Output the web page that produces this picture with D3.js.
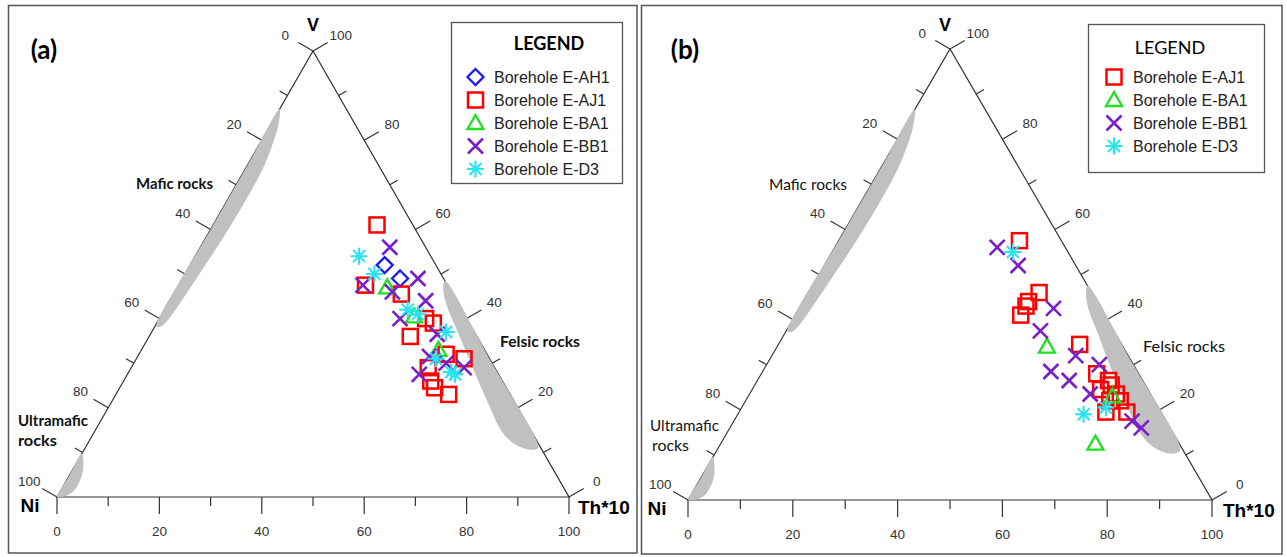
<!DOCTYPE html>
<html>
<head>
<meta charset="utf-8">
<script src="https://cdn.jsdelivr.net/npm/d3@7"></script>
<style>
  body { margin: 0; background: #fff; }
  svg { display: block; }
</style>
</head>
<body>
<svg id="chart" width="1287" height="557"></svg>
<script>
// Ternary compositions, each sample as [Ni, V, Th*10] in percent.
const boreholeNames = ["Borehole E-AH1", "Borehole E-AJ1", "Borehole E-BA1", "Borehole E-BB1", "Borehole E-D3"];

// Panel (a)
const aAH1 = [[10, 52, 38], [8.5, 49, 42.5]];
const aAJ1 = [[7, 61, 32], [16, 47.5, 36.5], [10, 45.5, 44.5], [8, 40, 52], [7, 39, 54], [13, 36, 51],
              [8, 32, 60], [5, 31, 64], [13, 29, 58], [14, 26, 60], [14, 24.5, 61.5], [12, 23, 65]];
const aBA1 = [[12, 47, 41], [10, 40.5, 49.5], [9, 33, 58]];
const aBB1 = [[7, 56, 37], [16.5, 47.5, 36], [5, 49, 46], [11.5, 46, 42.5], [6, 44, 50], [13, 40, 47],
              [7.5, 36.5, 56], [6, 29, 65], [15.5, 27.5, 57], [11.5, 31.5, 57], [9, 30, 61]];
const aD3  = [[14, 54, 32], [13, 50, 37], [10.5, 42, 47.5], [9, 41, 50], [5.5, 37, 57.5],
              [10.5, 31, 58.5], [9, 28, 63], [8.5, 27.5, 64]];

// Panel (b)
const bAJ1 = [[8, 57.5, 34.5], [10, 46, 44], [14, 43, 43], [16, 41, 43], [13, 44, 43], [8, 34.5, 57.5],
              [8, 28, 64], [6.5, 26.5, 67], [6.5, 25.5, 68], [9, 24.5, 66.5], [6.5, 23.5, 70],
              [8.5, 22, 69.5], [6.5, 22, 71.5], [10.5, 19.5, 70], [6.5, 19.5, 74]];
const bBA1 = [[14.5, 34, 51.5], [7.5, 23, 69.5], [16, 12.5, 71.5]];
const bBB1 = [[13, 56, 31], [11, 52, 37], [9, 42.5, 48.5], [14, 37.5, 48.5], [10, 32, 58], [6.5, 30, 63.5],
              [16.5, 28.5, 55], [14, 26.5, 59.5], [11.5, 23.5, 65], [6.5, 17.5, 76], [5.5, 16, 78.5]];
const bD3  = [[10.5, 55, 34.5], [15, 19, 66], [10, 20.5, 69.5]];

// Rock-type fields, outlines as [Ni, V, Th*10]
const felsicA = [[0, 48.5, 51.5], [1.3, 46.5, 52.2], [2.4, 43, 54.6], [3.1, 38, 58.9], [3.9, 32, 64.1],
                 [4.7, 26, 69.3], [5.4, 20, 74.6], [5.8, 16, 78.2], [5.4, 13, 81.6], [3.9, 11.2, 84.9],
                 [2, 10.6, 87.4], [0.5, 11, 88.5], [0, 12.5, 87.5], [0, 30, 70]];
const maficA = [[13, 87, 0], [15, 83.5, 1.5], [18.5, 78.9, 2.6], [23, 73.6, 3.4], [30, 66.4, 3.6],
                [38, 58.6, 3.4], [46, 51.1, 2.9], [53, 44.6, 2.4], [58, 40.1, 1.9], [60.5, 38.3, 1.2],
                [61.5, 38.1, 0.4], [61, 39, 0], [40, 60, 0], [25, 75, 0]];
const ultramaficA = [[90.3, 9.7, 0], [90.8, 8.1, 1.1], [92, 5.9, 2.1], [94, 3.3, 2.7], [96, 1.4, 2.6],
                     [98.2, 0.2, 1.6], [99.6, 0, 0.4], [100, 0, 0], [95, 5, 0]];
const felsicB = [[0, 47.5, 52.5], [1.3, 45.5, 53.2], [2.5, 42, 55.5], [3.3, 37, 59.7], [4.2, 32, 63.8],
                 [5.1, 26, 68.9], [5.9, 20, 74.1], [6.3, 16, 77.7], [5.9, 12.8, 81.3], [4.3, 10.8, 84.9],
                 [2.2, 10.3, 87.5], [0.6, 11, 88.4], [0, 12.5, 87.5], [0, 30, 70]];
const maficB = [[13.5, 86.5, 0], [15.5, 83, 1.5], [19, 78.4, 2.6], [24, 72.6, 3.4], [31, 65.4, 3.6],
                [39, 57.6, 3.4], [47, 50.1, 2.9], [54, 43.6, 2.4], [59, 39.1, 1.9], [61.5, 37.3, 1.2],
                [62.3, 37.3, 0.4], [62, 38, 0], [40, 60, 0], [25, 75, 0]];
const ultramaficB = [[90.5, 9.5, 0], [91, 8, 1], [92.2, 5.6, 2.2], [94, 3.2, 2.8], [96.2, 1.1, 2.7],
                     [98.3, 0.1, 1.6], [99.6, 0, 0.4], [100, 0, 0], [95, 5, 0]];

const tickValues = d3.range(0, 101, 10);
const tickLabels = [0, 20, 40, 60, 80, 100];

const colors = { "Borehole E-AH1": "#1c1cf0", "Borehole E-AJ1": "#ff0000", "Borehole E-BA1": "#22dd22",
                 "Borehole E-BB1": "#7a1fc8", "Borehole E-D3": "#26e4f2" };
const shapes = { "Borehole E-AH1": "diamond", "Borehole E-AJ1": "square", "Borehole E-BA1": "triangle",
                 "Borehole E-BB1": "cross", "Borehole E-D3": "star" };

const svg = d3.select("#chart");
const SANS = "'Liberation Sans', Arial, sans-serif";
const CAL = "Lato, 'Open Sans', sans-serif";

function drawMarker(g, type, color, x, y) {
  const m = g.append("g").attr("transform", `translate(${x},${y})`)
    .attr("fill", "none").attr("stroke", color).attr("stroke-width", 2.3);
  if (type === "square") {
    m.append("rect").attr("x", -7.5).attr("y", -7.5).attr("width", 15).attr("height", 15).attr("stroke-width", 2.5);
  } else if (type === "diamond") {
    m.append("path").attr("d", "M0,-8L8,0L0,8L-8,0Z");
  } else if (type === "triangle") {
    m.append("path").attr("d", "M0,-8L8,6L-8,6Z");
  } else if (type === "cross") {
    m.append("path").attr("d", "M-7.5,-7.5L7.5,7.5M-7.5,7.5L7.5,-7.5").attr("stroke-width", 2.6);
  } else if (type === "star") {
    m.append("path").attr("d", "M-8.5,0L8.5,0M0,-8.5L0,8.5M-6,-6L6,6M-6,6L6,-6").attr("stroke-width", 2);
  }
}

function drawPanel(cfg) {
  const g = svg.append("g");

  // panel frame
  g.append("rect").attr("x", cfg.frame[0]).attr("y", cfg.frame[1])
    .attr("width", cfg.frame[2] - cfg.frame[0]).attr("height", cfg.frame[3] - cfg.frame[1])
    .attr("fill", "none").attr("stroke", "#555").attr("stroke-width", 1.5);

  const xs = d3.scaleLinear().domain([0, 100]).range([cfg.x0, cfg.x1]);
  const ys = d3.scaleLinear().domain([0, 100]).range([cfg.yBase, cfg.yApex]);
  const P = d => [xs(d[2] + d[1] / 2), ys(d[1])];

  // triangle
  g.append("path")
    .attr("d", d3.line()([P([100, 0, 0]), P([0, 100, 0]), P([0, 0, 100])]) + "Z")
    .attr("fill", "none").attr("stroke", "#333").attr("stroke-width", 1.2);

  // ticks and tick labels on the three sides
  const sides = [
    { pt: t => P([100 - t, 0, t]), n: [0, 1] },            // Th*10 along the base
    { pt: t => P([t, 100 - t, 0]), n: [-0.866, -0.5] },     // Ni on the left side
    { pt: t => P([0, t, 100 - t]), n: [0.866, -0.5] }       // V on the right side
  ];
  sides.forEach(s => {
    tickValues.forEach(t => {
      const p = s.pt(t);
      const len = t % 20 === 0 ? 17 : 9;
      g.append("line").attr("x1", p[0]).attr("y1", p[1])
        .attr("x2", p[0] + len * s.n[0]).attr("y2", p[1] + len * s.n[1])
        .attr("stroke", "#333").attr("stroke-width", 1.2);
    });
    tickLabels.forEach(t => {
      const p = s.pt(t);
      const off = s.n[1] === 1 ? 34 : 32;
      g.append("text").attr("x", p[0] + off * s.n[0]).attr("y", p[1] + off * s.n[1])
        .attr("text-anchor", "middle").attr("dominant-baseline", "central")
        .attr("font-family", SANS).attr("font-size", 13.5).attr("fill", "#333")
        .text(t);
    });
  });

  // rock-type fields
  const area = d3.line().curve(d3.curveCatmullRomClosed.alpha(0.5));
  cfg.fields.forEach(f => {
    g.append("path").attr("d", area(f.map(P))).attr("fill", "#c0c0c0").attr("stroke", "none");
  });

  // samples
  cfg.series.forEach(s => {
    s.values.forEach(d => {
      const p = P(d);
      drawMarker(g, shapes[s.name], colors[s.name], p[0], p[1]);
    });
  });

  // vertex labels
  const vx = P([0, 100, 0]);
  g.append("text").attr("x", vx[0] + cfg.vShift).attr("y", 25).attr("text-anchor", "middle")
    .attr("dominant-baseline", "central").attr("font-family", SANS).attr("font-weight", "bold")
    .attr("font-size", 18).attr("fill", "#000").text("V");
  g.append("text").attr("x", cfg.niX).attr("y", cfg.yBase + 8).attr("text-anchor", "middle")
    .attr("dominant-baseline", "central").attr("font-family", SANS).attr("font-weight", "bold")
    .attr("font-size", 19).attr("fill", "#000").text("Ni");
  g.append("text").attr("x", cfg.thX).attr("y", cfg.yBase + 10).attr("text-anchor", "start")
    .attr("dominant-baseline", "central").attr("font-family", SANS).attr("font-weight", "bold")
    .attr("font-size", 19).attr("fill", "#000").text("Th*10");

  // panel letter
  g.append("text").attr("x", cfg.letter[0]).attr("y", cfg.letter[1]).attr("text-anchor", "middle")
    .attr("dominant-baseline", "central").attr("font-family", CAL).attr("font-weight", "bold")
    .attr("font-size", 26).attr("fill", "#000").text(cfg.letterText);

  // field names
  cfg.fieldLabels.forEach(l => {
    g.append("text").attr("x", l.x).attr("y", l.y).attr("dominant-baseline", "central")
      .attr("font-family", CAL).attr("font-weight", cfg.fieldBold ? "bold" : "normal")
      .attr("font-size", 15).attr("fill", "#111")
      .attr("textLength", l.w).attr("lengthAdjust", "spacingAndGlyphs").text(l.text);
  });

  // legend
  const L = cfg.legend;
  g.append("rect").attr("x", L.x0).attr("y", L.y0).attr("width", L.x1 - L.x0).attr("height", L.y1 - L.y0)
    .attr("fill", "#fff").attr("stroke", "#555").attr("stroke-width", 1.3);
  g.append("text").attr("x", L.titleX).attr("y", L.titleY).attr("text-anchor", "middle")
    .attr("dominant-baseline", "central").attr("font-family", CAL)
    .attr("font-weight", cfg.fieldBold ? "bold" : "normal").attr("font-size", 18).attr("fill", "#000")
    .text("LEGEND");
  cfg.series.forEach((s, i) => {
    const y = L.rowY0 + i * L.rowStep;
    drawMarker(g, shapes[s.name], colors[s.name], L.symX, y);
    g.append("text").attr("x", L.textX).attr("y", y).attr("dominant-baseline", "central")
      .attr("font-family", SANS).attr("font-size", 16).attr("fill", "#222").text(s.name);
  });
}

drawPanel({
  frame: [8.5, 5.5, 637, 553],
  x0: 57, x1: 569, yBase: 497, yApex: 51,
  vShift: 0, niX: 30, thX: 578,
  letter: [44, 49], letterText: "(a)",
  fieldBold: true,
  fields: [maficA, ultramaficA, felsicA],
  fieldLabels: [
    { text: "Mafic rocks", x: 136, y: 183, w: 77 },
    { text: "Felsic rocks", x: 500, y: 341, w: 80 },
    { text: "Ultramafic", x: 18, y: 420, w: 70 },
    { text: "rocks", x: 18, y: 440, w: 39 }
  ],
  series: [
    { name: boreholeNames[0], values: aAH1 },
    { name: boreholeNames[1], values: aAJ1 },
    { name: boreholeNames[2], values: aBA1 },
    { name: boreholeNames[3], values: aBB1 },
    { name: boreholeNames[4], values: aD3 }
  ],
  legend: { x0: 451.5, y0: 22.5, x1: 622.5, y1: 183.5, titleX: 549, titleY: 43,
            rowY0: 77, rowStep: 23, symX: 475.5, textX: 494 }
});

drawPanel({
  frame: [641.5, 5.5, 1282, 554],
  x0: 688, x1: 1212, yBase: 500, yApex: 49,
  vShift: -5, niX: 657, thX: 1223,
  letter: [685, 49], letterText: "(b)",
  fieldBold: false,
  fields: [maficB, ultramaficB, felsicB],
  fieldLabels: [
    { text: "Mafic rocks", x: 769, y: 184, w: 78 },
    { text: "Felsic rocks", x: 1143, y: 346, w: 82 },
    { text: "Ultramafic", x: 650, y: 425, w: 69 },
    { text: "rocks", x: 652, y: 445, w: 37 }
  ],
  series: [
    { name: boreholeNames[1], values: bAJ1 },
    { name: boreholeNames[2], values: bBA1 },
    { name: boreholeNames[3], values: bBB1 },
    { name: boreholeNames[4], values: bD3 }
  ],
  legend: { x0: 1088.5, y0: 24.5, x1: 1264.5, y1: 172.5, titleX: 1170, titleY: 47,
            rowY0: 77, rowStep: 23, symX: 1114, textX: 1133 }
});
</script>
</body>
</html>
